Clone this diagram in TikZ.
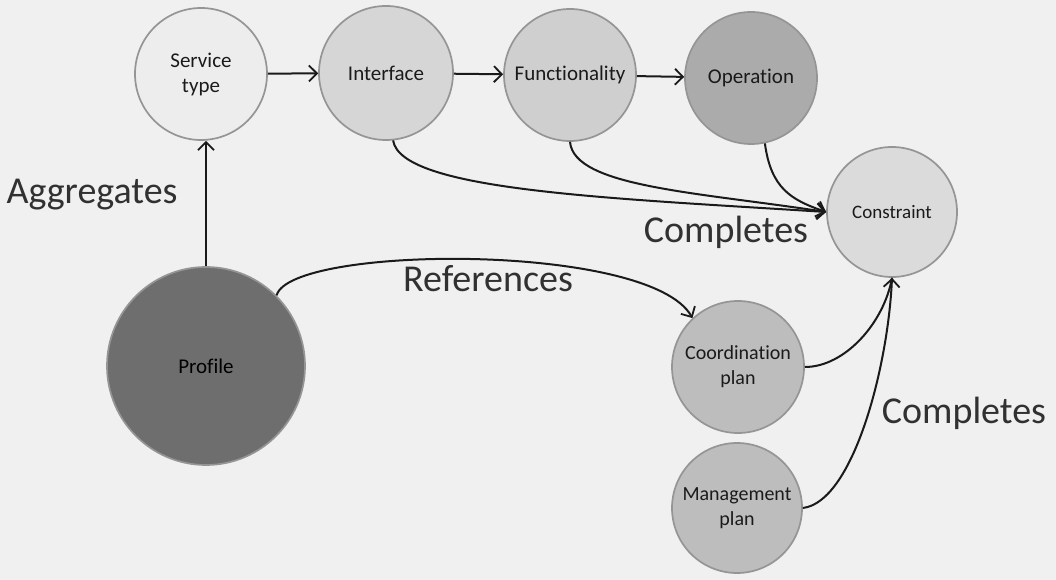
\documentclass[tikz,border=0pt]{standalone}
\usepackage{fontspec}
\setmainfont[Ligatures=NoCommon]{Carlito}
\usetikzlibrary{arrows.meta}
\definecolor{bg}{HTML}{F0F0F0}
\definecolor{ring}{HTML}{959595}
\definecolor{ink}{HTML}{1A1A1A}
\begin{document}
\begin{tikzpicture}[x=1pt,y=1pt,
  concept/.style={circle, draw=ring, line width=1.7pt, inner sep=0pt,
    minimum size=#1, align=center, text=ink,
    font=\fontsize{21}{25}\selectfont},
  link/.style={line width=2pt, draw=ink,
    -{Straight Barb[length=8pt,width=16pt,line width=1.8pt]}},
  plain/.style={line width=2pt, draw=ink},
  bigword/.style={font=\fontsize{38}{40}\selectfont, text=ink!90, inner sep=0pt}
]
% canvas
\fill[bg] (0,0) rectangle (1056,580);
\useasboundingbox (0,0) rectangle (1056,580);

% concepts
\node[concept=132pt, fill=black!7]  (st) at (201,506) {Service\\type};
\node[concept=134pt, fill=black!16] (if) at (386,507) {Interface};
\node[concept=132pt, fill=black!19] (fn) at (570,505) {Functionality};
\node[concept=132pt, fill=black!33] (op) at (751,502) {Operation};
\node[concept=130pt, fill=black!14, font=\fontsize{19}{22}\selectfont] (cs) at (892,368) {Constraint};
\node[concept=132pt, fill=black!26, font=\fontsize{20}{25}\selectfont] (cp) at (738,213) {Coordination\\plan};
\node[concept=130pt, fill=black!26, font=\fontsize{20}{25}\selectfont] (mp) at (737,72) {Management\\plan};
\node[concept=198pt, fill=black!57, text=black] (pf) at (206,214) {Profile};

% relation labels
\node[bigword] (lagg) at (92,385) {Aggregates};
\node[bigword] (lcmp) at (726,348) {Completes};
\node[bigword] (lref) at (488,301) {References};
\node[bigword] (lcmp2) at (964,167) {Completes};

% chain along the top
\draw[link] (st) -- (if);
\draw[link] (if) -- (fn);
\draw[link] (fn) -- (op);

% aggregation
\draw[link] (pf.north) -- (pf.north |- st.south);

% completion of the constraint
\coordinate (csin) at (cs.west);
\draw[link] (if.-84) .. controls +(8,-50) and +(-220,14) .. (csin);
\draw[link] (fn.-90) .. controls +(4,-45) and +(-130,20) .. (csin);
\draw[link] (op.-78) .. controls +(6,-45) and +(-35,12) .. (csin);

% reference from the profile
\draw[link] (pf.45) .. controls (290,335) and (650,338) .. (cp.133);

% plans completing the constraint
\draw[plain] (cp.east) .. controls +(40,0) and +(-8,-45) .. (cs.south);
\draw[link] (mp.east) .. controls +(50,6) and +(-4,-90) .. (cs.south);
\end{tikzpicture}
\end{document}
